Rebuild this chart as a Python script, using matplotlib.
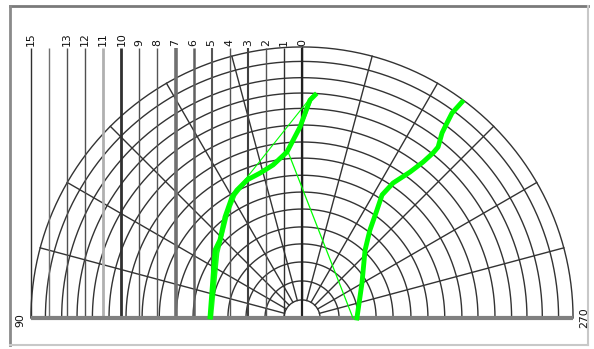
import numpy as np
import matplotlib
matplotlib.use('Agg')
import matplotlib.pyplot as plt
from matplotlib.lines import Line2D

# range ticks drawn as vertical lines on the left half
range_ticks = [0, 1, 2, 3, 4, 5, 6, 7, 8, 9, 10, 11, 12, 13, 14, 15]
range_labels = ['0', '1', '2', '3', '4', '5', '6', '7', '8', '9', '10', '11', '12', '13', '', '15']

# concentric rings (range units) and spoke angles (deg)
ring_radii = [1.0, 2.05, 3.1, 4.1, 5.04, 6.03, 6.97, 7.9, 8.85, 9.74, 10.68, 11.6, 12.45, 13.3, 14.2, 15.0]
spoke_angles = [15, 30, 45, 60, 75, 90, 105, 120, 135, 150, 165]

# tracks (x, y in range units)
left_x = [-5.09, -4.81, -4.54, -4.26, -3.87, -3.60, -3.04, -2.32, -1.60, -0.83, -0.11, 0.44, 0.72]
left_y = [0.06, 3.76, 4.32, 5.59, 6.70, 7.08, 7.64, 8.02, 8.47, 9.19, 10.57, 12.06, 12.34]
left2_x = [-5.00, -4.65, -4.40, -4.10, -3.70, -3.30, -2.80, -2.10, -1.40, -0.70, 0.05, 0.55]
left2_y = [0.00, 3.60, 4.60, 5.80, 6.80, 7.30, 7.80, 8.15, 8.60, 9.40, 10.90, 12.20]
right_x = [3.04, 3.32, 3.49, 3.76, 4.15, 4.43, 5.04, 5.98, 6.70, 7.25, 7.53, 7.75, 8.02, 8.30, 8.85]
right_y = [0.00, 1.94, 3.76, 4.87, 5.98, 6.81, 7.47, 8.08, 8.63, 9.13, 9.46, 10.24, 10.79, 11.34, 11.95]
jump_x = [-0.77, 2.82]
jump_y = [9.19, 0.00]
stray_x = [-3.82, 0.55]
stray_y = [6.81, 12.29]

tick_widths = [1.6, 1.0, 1.0, 1.5, 1.0, 1.5, 1.8, 2.6, 1.0, 1.0, 2.0, 2.0, 1.0, 1.0, 1.0, 1.0]
tick_colors = ['#202020', '#303030', '#555555', '#404040', '#555555', '#555555', '#606060', '#707070',
               '#555555', '#505050', '#303030', '#b0b0b0', '#505050', '#505050', '#707070', '#303030']

u = 18.07  # pixels per range unit
fig = plt.figure(figsize=(5.94, 3.49), dpi=100)
ax = fig.add_axes([0, 0, 1, 1])
ax.set_xlim(-302 / u, 292 / u)
ax.set_ylim(-31 / u, 318 / u)
ax.axis('off')

grid_c = '#333333'
theta = np.linspace(0, np.pi, 400)
for r in ring_radii:
    ax.plot(r * np.cos(theta), r * np.sin(theta), color=grid_c, lw=1.0, zorder=2)
for a in spoke_angles:
    t = np.radians(a)
    ax.plot([ring_radii[0] * np.cos(t), ring_radii[-1] * np.cos(t)],
            [ring_radii[0] * np.sin(t), ring_radii[-1] * np.sin(t)], color=grid_c, lw=1.0, zorder=2)

top = ring_radii[-1] - 0.05
for k, lab, w, c in zip(range_ticks, range_labels, tick_widths, tick_colors):
    ax.plot([-k, -k], [0, top], color=c, lw=w, zorder=3, solid_capstyle='butt')
    if lab:
        ax.text(-k, top + 0.1, lab, rotation=90, ha='center', va='bottom', fontsize=7.8,
                color='#111111', zorder=5)

ax.plot([-15, 15], [0, 0], color='#808080', lw=3, zorder=4, solid_capstyle='butt')

green = '#00ff00'
ax.plot(left_x, left_y, color=green, lw=3.5, zorder=6, solid_joinstyle='round')
ax.plot(left2_x, left2_y, color=green, lw=2.0, zorder=6, alpha=0.9)
ax.plot(right_x, right_y, color=green, lw=3.5, zorder=6, solid_joinstyle='round')
ax.plot(jump_x, jump_y, color=green, lw=0.9, zorder=6)
ax.plot(stray_x, stray_y, color=green, lw=0.8, zorder=6)

ax.text(-15.6, -0.1, '90', rotation=90, ha='center', va='center', fontsize=7.8, color='#111111')
ax.text(15.6, 0.0, '270', rotation=90, ha='center', va='center', fontsize=7.8, color='#111111')

# sunken panel border
W, H = 594.0, 349.0
x0, x1 = 10 / W, 588 / W
y0, y1 = 1 - 345 / H, 1 - 6 / H
fig.add_artist(Line2D([x0, x1], [y1, y1], transform=fig.transFigure, color='#7a7a7a', lw=2))
fig.add_artist(Line2D([x0, x0], [y0, y1], transform=fig.transFigure, color='#8a8a8a', lw=2))
fig.add_artist(Line2D([x0, x1], [y0, y0], transform=fig.transFigure, color='#c8c8c8', lw=1.5))
fig.add_artist(Line2D([x1, x1], [y0, y1], transform=fig.transFigure, color='#c8c8c8', lw=1.5))

fig.savefig('out.png', dpi=100, facecolor='white')
plt.close('all')
